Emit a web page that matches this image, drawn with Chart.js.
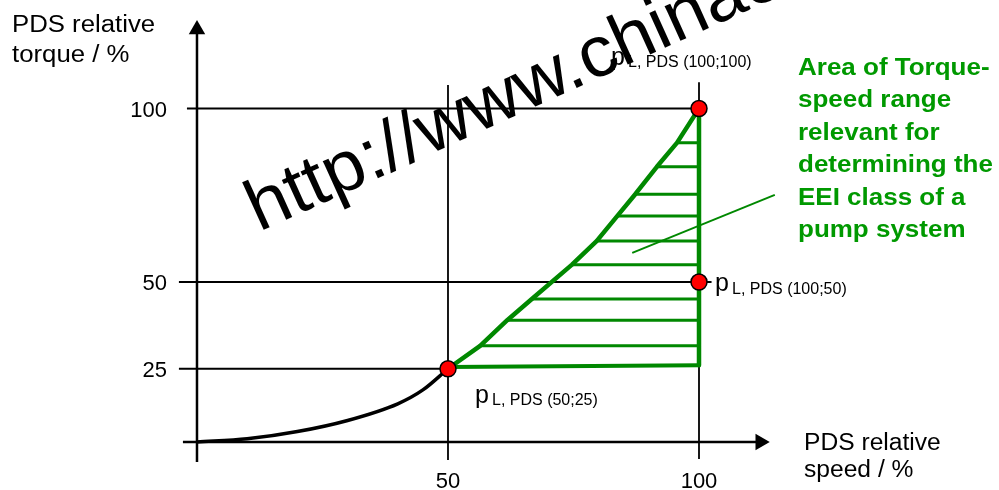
<!DOCTYPE html>
<html>
<head>
<meta charset="utf-8">
<script src="https://cdn.jsdelivr.net/npm/chart.js@4.4.1/dist/chart.umd.min.js"></script>
<style>
  html, body { margin: 0; padding: 0; background: #fff; }
  #wrap { width: 999px; height: 490px; position: relative; }
</style>
</head>
<body>
<div id="wrap"><canvas id="chart"></canvas></div>
<script>
// tick labels
const speedTicks = [50, 100];
const torqueTicks = [25, 50, 100];

// load curve of the pump (speed %, torque %)
const curveSpeed = [0, 10, 20, 30, 40, 45, 50];
const curveTorque = [3.9, 4.8, 6.9, 10.1, 14.9, 18.9, 25];

// hatch lines inside the relevant area
const hatchTorque = [31.6, 39.0, 45.1, 55.0, 61.8, 69.0, 75.3, 83.2, 90.1];
const hatchStart = [56.4, 61.8, 66.7, 74.7, 79.6, 83.7, 87.3, 91.6, 95.6];
const hatchEnd = [100, 100, 100, 100, 100, 100, 100, 100, 100];

// bottom edge of the area
const baseSpeed = [50, 100];
const baseTorque = [25.5, 26];

// operating points
const pointSpeed = [50, 100, 100];
const pointTorque = [25, 50, 100];
const pointLabels = ['(50;25)', '(100;50)', '(100;100)'];

// reference lines to the operating points
const refTorque = [100, 50, 25];
const refFrom = [-2, -3.6, -3.6];
const refTo = [100, 102.5, 50];
const refSpeed = [50, 100];
const refBottom = [-1.3, -1.0];
const refTop = [106.8, 107.6];

// axes
const axisTorque = 3.9;   // where the speed axis crosses
const axisSpeedEnd = 112.2;
const axisTorqueEnd = 122.8;

// pointer to the note
const leaderSpeed = [86.7, 115.1];
const leaderTorque = [58.4, 75.1];

const noteLines = ['Area of Torque-', 'speed range', 'relevant for', 'determining the', 'EEI class of a', 'pump system'];

const GREEN = '#008800';
const FONT = '"Liberation Sans", Arial, sans-serif';

function zip(xs, ys) {
    return xs.map((v, i) => ({ x: v, y: ys[i] }));
}

// segments separated by gaps
const hatchData = [];
hatchTorque.forEach((t, i) => {
    hatchData.push({ x: hatchStart[i], y: t }, { x: hatchEnd[i], y: t }, { x: hatchEnd[i], y: null });
});

const refData = [];
refTorque.forEach((t, i) => {
    refData.push({ x: refFrom[i], y: t }, { x: refTo[i], y: t }, { x: refTo[i], y: null });
});
refSpeed.forEach((s, i) => {
    refData.push({ x: s, y: refBottom[i] }, { x: s, y: refTop[i] }, { x: s, y: null });
});

const axisData = [
    { x: -2.8, y: axisTorque }, { x: axisSpeedEnd, y: axisTorque }, { x: axisSpeedEnd, y: null },
    { x: 0, y: -1.9 }, { x: 0, y: axisTorqueEnd }
];

// outline of the area: left edge follows hatch starts up to (100;100), then down the right side
const outline = [{ x: 50, y: 25 }]
    .concat(zip(hatchStart, hatchTorque))
    .concat([{ x: 100, y: 100 }, { x: 100, y: baseTorque[1] }]);

function drawText(ctx, str, px, py, font, sx, align) {
    ctx.save();
    ctx.translate(px, py);
    ctx.scale(sx || 1, 1);
    ctx.font = font;
    ctx.textAlign = align || 'left';
    ctx.fillText(str, 0, 0);
    ctx.restore();
}

const labelPlugin = {
    id: 'labels',
    afterDatasetsDraw(chart) {
        const { ctx } = chart;
        const x = chart.scales.x, y = chart.scales.y;
        ctx.save();
        ctx.fillStyle = '#000';
        ctx.textBaseline = 'alphabetic';

        // axis titles
        drawText(ctx, 'PDS relative', 12, 32, '23px ' + FONT, 1.12);
        drawText(ctx, 'torque / %', 12, 62, '23px ' + FONT, 1.12);
        drawText(ctx, 'PDS relative', 804, 450, '23px ' + FONT, 1.07);
        drawText(ctx, 'speed / %', 804, 477, '23px ' + FONT, 1.07);

        // tick labels
        torqueTicks.forEach(t => {
            drawText(ctx, String(t), x.getPixelForValue(0) - 30, y.getPixelForValue(t) + 8, '22px ' + FONT, 1, 'right');
        });
        speedTicks.forEach(s => {
            drawText(ctx, String(s), x.getPixelForValue(s), 488, '22px ' + FONT, 1, 'center');
        });

        // operating point labels
        const offs = [[27, 34], [16, 9], [-88, -44]];
        pointSpeed.forEach((s, i) => {
            const px = x.getPixelForValue(s) + offs[i][0];
            const py = y.getPixelForValue(pointTorque[i]) + offs[i][1];
            drawText(ctx, 'p', px, py, '25px ' + FONT, 1);
            drawText(ctx, 'L, PDS ' + pointLabels[i], px + 17, py + 2.5, '16px ' + FONT, 1);
        });

        // note
        ctx.fillStyle = '#009900';
        noteLines.forEach((line, i) => {
            drawText(ctx, line, 798, 75 + i * 32.4, 'bold 23px ' + FONT, 1.13);
        });

        // watermark
        ctx.fillStyle = '#000';
        ctx.save();
        ctx.translate(259, 232);
        ctx.rotate(-24.4 * Math.PI / 180);
        ctx.scale(1.03, 1);
        ctx.font = '72px ' + FONT;
        ctx.textAlign = 'left';
        ctx.fillText('http://www.chinae', 0, 0);
        ctx.restore();

        ctx.restore();
    }
};

new Chart(document.getElementById('chart'), {
    type: 'scatter',
    data: {
        datasets: [
            {
                data: refData, showLine: true, spanGaps: false, order: 8,
                borderColor: '#000', borderWidth: 1.8, pointRadius: 0
            },
            {
                data: axisData, showLine: true, spanGaps: false, order: 7,
                borderColor: '#000', borderWidth: 2.5, pointRadius: 0
            },
            {
                // arrow heads
                data: [{ x: axisSpeedEnd, y: axisTorque }, { x: 0, y: axisTorqueEnd }], order: 6,
                pointStyle: 'triangle', pointRadius: 9.5, pointRotation: [90, 0],
                backgroundColor: '#000', borderColor: '#000', borderWidth: 0
            },
            {
                data: zip(curveSpeed, curveTorque), showLine: true, order: 5,
                borderColor: '#000', borderWidth: 3.5, pointRadius: 0,
                cubicInterpolationMode: 'monotone'
            },
            {
                data: hatchData, showLine: true, spanGaps: false, order: 4,
                borderColor: GREEN, borderWidth: 3, pointRadius: 0
            },
            {
                data: zip(baseSpeed, baseTorque), showLine: true, order: 3,
                borderColor: GREEN, borderWidth: 4, pointRadius: 0
            },
            {
                data: outline, showLine: true, order: 2,
                borderColor: GREEN, borderWidth: 4.5, pointRadius: 0,
                borderJoinStyle: 'round'
            },
            {
                data: zip(leaderSpeed, leaderTorque), showLine: true, order: 1,
                borderColor: GREEN, borderWidth: 2, pointRadius: 0
            },
            {
                data: zip(pointSpeed, pointTorque), order: 0,
                pointRadius: 8, pointStyle: 'circle',
                backgroundColor: '#ff0000', borderColor: '#000', borderWidth: 1.5
            }
        ]
    },
    options: {
        responsive: true,
        maintainAspectRatio: false,
        animation: false,
        layout: { padding: 0, autoPadding: false },
        plugins: {
            legend: { display: false },
            tooltip: { enabled: false }
        },
        scales: {
            x: { type: 'linear', min: -39.24, max: 159.76, display: false },
            y: { type: 'linear', min: -9.94, max: 131.27, display: false }
        }
    },
    plugins: [labelPlugin]
});
</script>
</body>
</html>
